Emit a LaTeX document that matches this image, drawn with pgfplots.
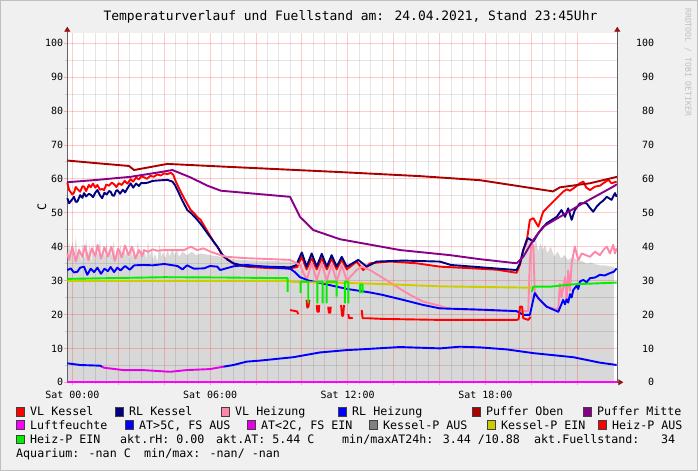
\documentclass[border=0pt]{standalone}
\usepackage{fontspec}
\setmainfont{DejaVu Sans Mono}
\usepackage{pgfplots}
\pgfplotsset{compat=1.18}
\usetikzlibrary{arrows.meta}

\definecolor{canvas}{RGB}{240,240,240}
\definecolor{areagray}{RGB}{216,216,216}
\definecolor{vlkessel}{RGB}{255,0,0}
\definecolor{rlkessel}{RGB}{0,0,128}
\definecolor{vlheiz}{RGB}{255,136,170}
\definecolor{rlheiz}{RGB}{0,0,255}
\definecolor{pufoben}{RGB}{170,0,0}
\definecolor{pufmitte}{RGB}{136,0,136}
\definecolor{lfeuchte}{RGB}{255,0,255}
\definecolor{atkalt}{RGB}{230,0,230}
\definecolor{kpaus}{RGB}{128,128,128}
\definecolor{kpein}{RGB}{204,204,0}
\definecolor{hpein}{RGB}{0,240,0}
\definecolor{axgray}{RGB}{100,100,100}
\definecolor{arrred}{RGB}{150,20,20}

\newcommand\legfont{\fontsize{11.7}{13}\selectfont}
\newcommand\legbox[3]{% x, baseline y, colour
  \filldraw[fill=#3, draw=black!75, line width=0.5bp] (#1bp,#2bp+0.1bp) rectangle +(8.5bp,8.5bp);}

\tikzset{arrowline/.style={draw=axgray, line width=0.8bp, shorten >=-6bp,
    -{Triangle[length=5bp,width=6bp,color=arrred]}}}

\pgfplotsset{
  rrdframe/.style={
    at={(67.3bp,88.7bp)}, anchor=south west,
    scale only axis, width=550bp, height=349.6bp,
    xmin=-0.22, xmax=23.75, ymin=0, ymax=103.1,
    unbounded coords=jump, clip=false,
    tick label style={font=\fontsize{10}{12}\selectfont, inner sep=0pt},
    /pgf/number format/assume math mode=true,
  },
}

\begin{document}
\begin{tikzpicture}
\fill[canvas] (0,0) rectangle (698bp,471bp);
\draw[black!25, line width=1bp] (0.5bp,0.5bp) rectangle (697.5bp,470.5bp);
\fill[white] (67.3bp,88.7bp) rectangle (617.3bp,438.3bp);

% Fuellstand (grey area), drawn below the grid
\begin{axis}[rrdframe, hide axis]
\addplot[fill=areagray, draw=none] coordinates {
(-0.22,36)(-0.15,42)(-0.08,37)(0,41.5)(0.08,36.5)(0.15,43)(0.22,37)(0.3,40)
(0.38,35.5)(0.45,41)(0.52,36)(0.6,42.5)(0.68,37)(0.75,40.5)(0.82,35)(0.9,41.5)
(0.98,36.5)(1.05,39.5)(1.12,37)(1.2,42)(1.28,36)(1.35,40.5)(1.42,36.5)(1.5,41)
(1.58,35.5)(1.65,40)(1.72,37)(1.8,41.5)(1.88,36)(1.95,39.5)(2.02,37.5)(2.1,40.5)
(2.18,36.5)(2.25,41)(2.32,37)(2.4,39.5)(2.48,36)(2.55,40.5)(2.62,37)(2.7,39.5)
(2.78,36.5)(2.85,41.5)(2.92,37)(3.0,40)(3.08,36.5)(3.15,39)(3.22,36)(3.3,41.5)
(3.38,37)(3.45,39.5)(3.52,36)(3.6,38)(3.7,35.5)(3.8,40.5)(3.88,37)(3.95,38.5)
(4.05,36.5)(4.15,39)(4.25,37)(4.35,39.5)(4.45,37.5)(4.55,39)(4.65,37)(4.8,38.5)
(5.0,37.5)(5.2,38.5)(5.4,37.5)(5.6,38)(6.0,37.5)(6.5,37)(7.0,36.3)(7.6,36.0)
(9.49,35.6)(9.9,34.5)(10.2,36)(10.5,34.5)(10.9,36)(11.3,34.5)(11.7,35.5)(12.0,34.5)
(12.5,35.2)(13.0,34.8)(15,35)(16.0,34.5)(17.5,33.8)(19.4,33.2)(19.55,34)(19.7,40)
(19.9,43)(20.0,41)(20.1,39)(20.2,42.5)(20.3,38.5)(20.4,41)(20.5,39)(20.6,40.5)
(20.7,38)(20.85,40)(21.0,37)(21.15,38.5)(21.3,36.5)(21.45,37.5)(21.6,36)(21.8,37)
(22.0,36)(22.2,35.8)(22.4,35)(22.6,35.3)(22.8,34.8)(23.0,34.5)(23.2,34.5)(23.4,34.2)
(23.6,34.1)} \closedcycle;
\end{axis}

\begin{axis}[
  rrdframe,
  axis x line*=bottom, axis y line*=left,
  x axis line style={arrowline}, y axis line style={arrowline},
  xtick={0,2,...,22},
  xticklabels={Sat 00:00,,,Sat 06:00,,,Sat 12:00,,,Sat 18:00,,},
  minor x tick num=3,
  ytick={0,10,...,100}, minor y tick num=1,
  grid=both,
  major grid style={draw=red, draw opacity=0.2, line width=0.8bp},
  minor grid style={draw=black, draw opacity=0.1, line width=0.8bp},
  tick align=outside, major tick length=3bp, minor tick length=2bp,
  major tick style={draw=red!35, line width=0.8bp},
  minor tick style={draw=black!20, line width=0.8bp},
  yticklabel style={anchor=east, xshift=-1bp},
  xticklabel style={anchor=north, yshift=-6bp},
  every axis plot/.append style={line width=1.9bp, line join=round},
]
% VL Kessel
\addplot[vlkessel] coordinates {
(-0.22,58.9)(-0.14,56.7)(0.0,55.4)(0.07,55.9)(0.15,57.6)(0.22,57.0)(0.34,56.2)(0.44,57.8)
(0.51,57.7)(0.6,56.4)(0.72,58.2)(0.80,57.5)(0.9,58.6)(1.0,57.4)(1.09,58.2)(1.2,56.8)
(1.3,57.0)(1.38,56.7)(1.48,58.3)(1.6,58.0)(1.72,58.9)(1.82,58.4)(1.92,57.6)(2.02,58.7)
(2.15,58.2)(2.28,59.4)(2.4,58.6)(2.54,59.9)(2.65,59.2)(2.78,60.4)(2.9,59.8)(3.0,60.7)
(3.12,60.5)(3.25,60.0)(3.4,60.9)(3.55,60.6)(3.7,61.3)(3.85,61.0)(4.0,61.6)(4.15,61.4)
(4.29,61.8)(4.40,61.2)(4.51,59.2)(4.7,56.5)(4.87,54.3)(5.0,52.7)(5.16,50.8)(5.3,49.9)
(5.45,48.7)(5.59,47.9)(5.8,45.5)(6.03,42.9)(6.2,41.0)(6.32,40.0)(6.47,38.2)(6.61,37.0)
(6.82,36.0)(7.02,35.0)(7.3,34.5)(7.60,34.1)(8.5,33.7)(9.49,33.6)(9.8,34.0)(10.00,37.0)
(10.21,33.3)(10.43,36.6)(10.65,33.3)(10.87,36.6)(11.09,33.3)(11.30,36.4)(11.52,33.3)
(11.74,36.2)(11.96,33.3)(12.39,35.6)(12.68,33.1)(12.97,35.1)(13.84,35.6)(15.0,35.1)
(16.02,34.1)(17.47,33.6)(18.5,33.2)(19.36,32.3)(19.51,34.6)(19.65,39.0)(19.80,41.5)
(19.94,47.9)(20.09,48.4)(20.31,45.9)(20.52,50.3)(20.96,53.3)(21.39,56.2)(21.54,56.9)
(21.69,56.5)(21.9,57.5)(22.12,58.7)(22.27,59.2)(22.4,57.4)(22.56,56.7)(22.78,57.7)
(23.0,58.0)(23.14,58.7)(23.36,59.7)(23.50,58.7)(23.72,59.2)};

% RL Kessel
\addplot[rlkessel] coordinates {
(-0.22,54.3)(-0.14,52.8)(0.0,54.0)(0.07,54.7)(0.15,53.2)(0.22,53.3)(0.34,55.2)(0.44,54.4)
(0.51,55.8)(0.6,54.8)(0.72,55.6)(0.80,55.3)(0.9,54.6)(1.0,55.9)(1.09,56.7)(1.2,55.2)
(1.3,54.3)(1.4,55.9)(1.5,55.4)(1.6,56.4)(1.67,56.2)(1.75,55.1)(1.82,55.0)(1.9,56.4)
(1.96,56.7)(2.08,55.6)(2.2,56.8)(2.3,56.0)(2.40,57.2)(2.54,58.7)(2.65,57.4)(2.78,58.6)
(2.9,57.9)(3.0,58.8)(3.12,58.7)(3.3,58.9)(3.5,59.4)(3.70,59.5)(3.9,59.6)(4.14,59.7)
(4.36,59.2)(4.47,58.2)(4.58,56.7)(4.8,53.5)(5.01,50.8)(5.2,49.7)(5.45,47.9)(5.65,46.2)
(5.88,44.0)(6.1,42.0)(6.32,40.0)(6.54,37.6)(6.75,36.2)(7.02,35.1)(7.30,34.6)(7.60,34.3)
(9.49,33.9)(9.75,34.5)(10.00,38.3)(10.21,34.1)(10.43,38.0)(10.65,34.1)(10.87,37.9)
(11.09,34.1)(11.30,37.5)(11.52,34.1)(11.74,37.0)(11.96,34.1)(12.46,36.1)(12.83,34.1)
(13.26,35.6)(14.42,35.9)(16.02,35.6)(16.5,34.6)(17.47,34.1)(19.36,33.1)(19.51,35.1)
(19.65,39.0)(19.80,42.0)(19.87,42.5)(20.09,41.5)(20.31,44.0)(20.67,46.9)(21.11,48.8)
(21.32,50.8)(21.47,48.8)(21.61,51.3)(21.76,47.9)(21.90,50.8)(22.12,52.8)(22.41,52.8)
(22.55,51.5)(22.70,50.3)(22.85,51.8)(22.99,52.8)(23.14,53.6)(23.29,54.7)(23.50,53.8)
(23.65,55.8)(23.72,54.7)};

% VL Heizung
\addplot[vlheiz] coordinates {
(-0.22,38.0)(-0.14,36.1)(0.0,40.0)(0.15,35.6)(0.29,39.0)(0.44,37.0)(0.55,40.2)(0.7,36.0)
(0.85,39.5)(1.0,37.2)(1.1,40.5)(1.25,36.5)(1.4,39.8)(1.55,37.0)(1.7,40.0)(1.85,35.8)
(2.0,39.5)(2.15,36.8)(2.3,40.3)(2.45,37.5)(2.6,40.0)(2.75,36.5)(2.9,39.0)(3.05,37.2)
(3.12,39.0)(3.3,38.5)(3.5,39.2)(3.7,38.8)(4.0,39.0)(4.5,39.0)(4.87,39.0)(5.16,40.0)
(5.45,39.0)(5.7,39.5)(6.03,38.5)(6.47,37.5)(6.73,37.0)(7.60,36.6)(9.49,36.1)(9.92,34.6)
(10.21,30.2)(10.43,35.1)(10.65,30.2)(10.87,35.0)(11.09,30.0)(11.30,34.8)(11.52,29.7)
(11.74,34.5)(11.96,30.0)(12.39,33.1)(12.61,34.1)(12.97,33.1)(13.55,30.7)(14.13,28.2)
(14.71,25.8)(15.29,23.8)(15.88,22.8)(16.46,21.6)(19.36,20.9)(19.87,21.0)(19.94,36.0)
(20.02,41.5)(20.09,40.0)(20.15,27.0)(20.31,24.5)(20.67,22.3)(21.11,21.5)(21.18,22.0)
(21.25,29.0)(21.32,25.0)(21.47,31.0)(21.54,24.0)(21.61,33.0)(21.69,27.0)(21.76,35.1)
(21.90,40.0)(22.05,36.0)(22.20,38.0)(22.56,37.0)(22.78,38.5)(22.99,37.5)(23.14,39.0)
(23.29,40.0)(23.43,38.0)(23.57,40.5)(23.65,38.0)(23.72,39.5)};

% RL Heizung
\addplot[rlheiz] coordinates {
(-0.22,33.1)(-0.07,33.6)(0.07,32.4)(0.22,32.6)(0.34,33.8)(0.51,34.1)(0.65,31.7)(0.80,33.5)
(0.95,32.5)(1.09,33.8)(1.25,32.0)(1.4,33.5)(1.55,32.8)(1.67,34.0)(1.82,32.5)(1.96,33.8)
(2.1,33.0)(2.3,34.3)(2.5,33.2)(2.7,34.5)(3.12,34.6)(3.5,34.5)(4.0,34.9)(4.58,34.3)
(4.8,33.3)(5.0,34.5)(5.3,33.5)(5.74,33.6)(6.0,34.3)(6.32,34.1)(6.44,33.1)(7.02,34.2)
(7.60,34.6)(8.5,34.0)(9.49,33.5)(9.70,32.5)(9.92,31.0)(10.3,30.0)(11.0,29.0)(11.52,28.2)
(12.0,27.5)(12.97,26.5)(13.5,25.8)(14.42,24.3)(15.29,22.8)(16.02,21.8)(17.5,21.5)
(19.36,21.0)(19.65,19.9)(19.94,19.9)(20.15,26.3)(20.31,24.8)(20.67,22.3)(21.18,20.8)
(21.39,24.3)(21.47,23.0)(21.54,24.5)(21.61,23.5)(21.69,26.0)(21.76,25.0)(21.83,27.2)
(21.98,28.5)(22.05,27.5)(22.12,29.7)(22.27,30.2)(22.41,29.5)(22.56,30.7)(22.78,30.9)
(22.99,31.7)(23.2,31.5)(23.43,32.2)(23.6,32.6)(23.72,33.6)};

% Puffer Oben
\addplot[pufoben] coordinates {
(-0.22,65.4)(1.09,64.6)(2.47,63.8)(2.69,62.6)(4.14,64.4)(6.61,63.6)(11.66,62.0)
(15.15,60.8)(17.77,59.6)(20.95,56.3)(21.25,57.5)(22.56,58.7)(23.74,60.6)};

% Puffer Mitte
\addplot[pufmitte] coordinates {
(-0.22,59.0)(1.09,59.7)(2.54,60.6)(3.85,62.0)(4.36,62.6)(5.16,60.4)(5.88,58.0)(6.47,56.5)
(9.49,54.7)(9.92,48.8)(10.50,44.9)(11.66,42.2)(14.28,39.0)(16.46,37.5)(17.77,36.3)
(19.36,35.1)(19.65,37.0)(20.09,42.0)(20.52,45.9)(21.25,48.8)(22.12,52.3)(23.57,57.7)
(23.73,58.4)};

% Luftfeuchte
\addplot[lfeuchte, line width=2.2bp] coordinates {(-0.22,0)(23.74,0)};

% Aussentemperatur
\addplot[rlheiz] coordinates {
(-0.22,5.6)(0.34,5.1)(1.21,4.9)(1.30,4.6)};
\addplot[atkalt] coordinates {
(1.30,4.6)(1.38,4.3)(2.22,3.6)(3.09,3.6)(4.26,3.1)(4.98,3.6)(6.0,3.9)(6.58,4.6)};
\addplot[rlheiz] coordinates {
(6.58,4.6)(7.02,5.1)(7.60,6.1)(8.18,6.4)(9.63,7.4)(10.79,8.8)(11.96,9.5)(12.54,9.7)
(14.28,10.4)(16.02,10.0)(16.89,10.5)(17.76,10.3)(18.93,9.7)(20.09,8.6)(21.83,7.4)
(22.99,5.8)(23.72,5.1)};

% Kessel-P EIN
\addplot[kpein] coordinates {
(-0.22,29.9)(9.40,29.9)(9.6,29.6)(12.0,29.3)(13.84,28.9)(16.0,28.3)(18.0,28.1)(20.0,27.9)};

% Heiz-P AUS
\addplot[vlkessel] coordinates {
(9.49,21.3)(9.80,20.9)(9.84,20.1)(9.85,nan)
(10.21,24.3)(10.24,22.0)(10.29,22.3)(10.33,24.3)(10.34,nan)
(10.65,22.8)(10.68,20.8)(10.74,20.8)(10.76,22.8)(10.77,nan)
(11.15,22.3)(11.18,20.5)(11.24,20.5)(11.26,22.3)(11.27,nan)
(11.71,22.8)(11.76,19.6)(11.80,19.6)(11.84,22.8)(11.85,nan)
(12.03,20.1)(12.06,18.9)(12.22,19.0)(12.23,nan)
(12.61,21.3)(12.65,18.9)(12.85,18.9)(13.5,18.7)(16.02,18.4)(19.36,18.4)(19.45,18.6)
(19.51,22.3)(19.60,22.3)(19.65,18.9)(19.87,18.4)(19.97,19.3)};

% Heiz-P EIN
\addplot[hpein] coordinates {
(-0.22,30.5)(4.0,31.0)(6.6,30.9)(9.38,30.7)(9.38,26.7)(9.39,nan)
(9.95,26.3)(9.95,29.7)(10.28,29.7)(10.28,23.3)(10.29,nan)
(10.68,23.3)(10.68,29.7)(10.91,29.7)(10.91,23.3)(10.92,nan)
(11.08,23.3)(11.08,29.7)(11.52,29.7)(11.52,25.3)(11.53,nan)
(11.88,23.3)(11.88,29.7)(12.03,29.7)(12.03,23.3)(12.04,nan)
(12.54,26.3)(12.54,28.8)(12.65,28.8)(12.65,26.3)(12.66,nan)
(20.02,26.7)(20.09,28.2)(20.82,28.2)(21.83,28.9)(23.72,29.4)};
\end{axis}

% right-hand scale
\begin{axis}[
  rrdframe,
  axis y line*=right, hide x axis,
  y axis line style={arrowline},
  ytick={0,10,...,100}, major tick length=0pt,
  yticklabel style={anchor=east, xshift=37bp},
]
\end{axis}

% title, axis label, watermark
\node[font=\fontsize{13}{15}\selectfont, anchor=base] at (350.5bp,450.3bp)
  {Temperaturverlauf und Fuellstand am: 24.04.2021, Stand 23:45Uhr};
\node[font=\legfont, rotate=90] at (42bp,264bp) {C};
\node[font=\fontsize{8.2}{9}\selectfont, text=black!25, rotate=-90, anchor=west, inner sep=0pt]
  at (688bp,463bp) {RRDTOOL / TOBI OETIKER};

% legend
\begin{scope}[every node/.style={font=\legfont, anchor=base west, inner sep=0pt}]
\legbox{16}{55}{vlkessel}  \node at (30bp,55bp) {VL Kessel};
\legbox{115}{55}{rlkessel} \node at (129bp,55bp) {RL Kessel};
\legbox{221}{55}{vlheiz}   \node at (235bp,55bp) {VL Heizung};
\legbox{338}{55}{rlheiz}   \node at (352bp,55bp) {RL Heizung};
\legbox{472}{55}{pufoben}  \node at (486bp,55bp) {Puffer Oben};
\legbox{583}{55}{pufmitte} \node at (597bp,55bp) {Puffer Mitte};

\legbox{16}{41.7}{lfeuchte} \node at (30bp,41.7bp) {Luftfeuchte};
\legbox{125}{41.7}{rlheiz}  \node at (139bp,41.7bp) {AT>5C, FS AUS};
\legbox{247}{41.7}{atkalt}  \node at (261bp,41.7bp) {AT<2C, FS EIN};
\legbox{369}{41.7}{kpaus}   \node at (383bp,41.7bp) {Kessel-P AUS};
\legbox{487}{41.7}{kpein}   \node at (501bp,41.7bp) {Kessel-P EIN};
\legbox{598}{41.7}{vlkessel}\node at (612bp,41.7bp) {Heiz-P AUS};

\legbox{16}{27.4}{hpein} \node at (30bp,27.4bp) {Heiz-P EIN};
\node at (120bp,27.4bp) {akt.rH: 0.00};
\node at (216bp,27.4bp) {akt.AT: 5.44 C};
\node at (342bp,27.4bp) {min/maxAT24h: 3.44 /10.88};
\node at (534bp,27.4bp) {akt.Fuellstand:};
\node at (661bp,27.4bp) {34};

\node at (16bp,14bp) {Aquarium: -nan C};
\node at (144bp,14bp) {min/max: -nan/ -nan};
\end{scope}
\end{tikzpicture}
\end{document}
